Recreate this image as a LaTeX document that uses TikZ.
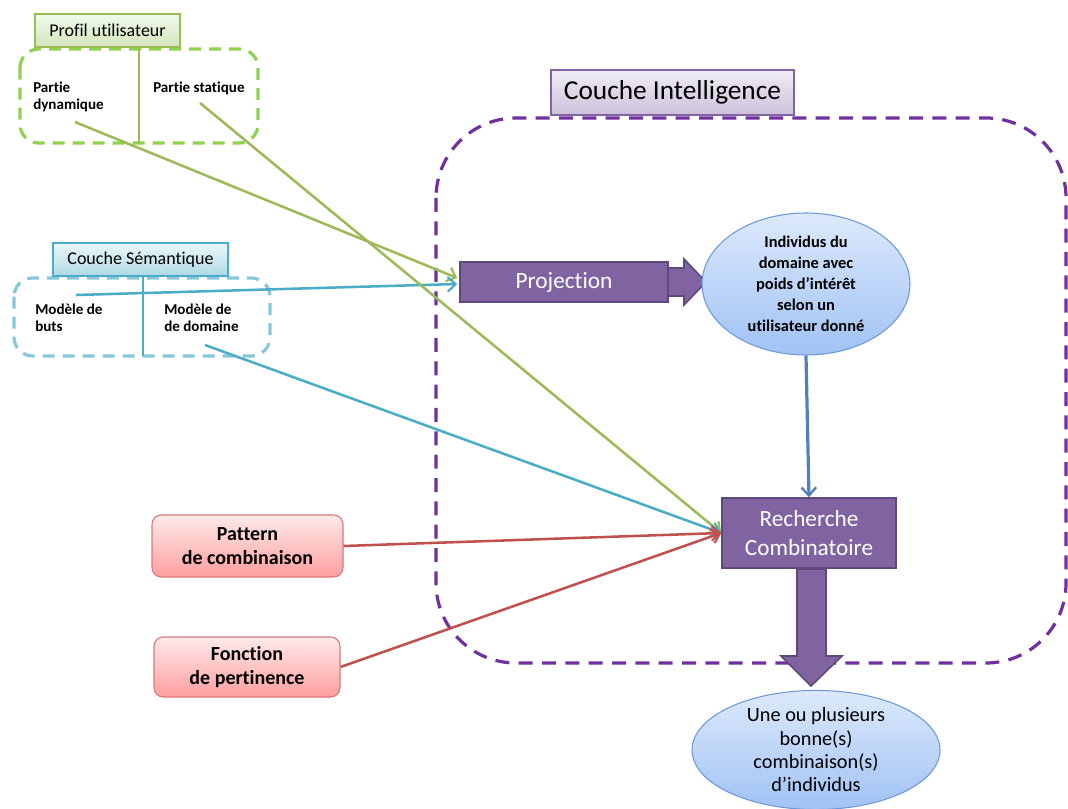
\documentclass[tikz,border=0pt]{standalone}
\usepackage{fontspec}
\setmainfont{Carlito}[Ligatures=NoCommon]
\usetikzlibrary{arrows.meta,shapes.geometric,calc}
\definecolor{gline}{HTML}{9BBB59}
\definecolor{gdash}{HTML}{92D050}
\definecolor{bline}{HTML}{4BACC6}
\definecolor{bdash}{HTML}{86C8DA}
\definecolor{pfill}{HTML}{8064A2}
\definecolor{pborder}{HTML}{5F497A}
\definecolor{pdash}{HTML}{7030A0}
\definecolor{rline}{HTML}{C0504D}
\definecolor{rborder}{HTML}{D9787A}
\definecolor{arrblue}{HTML}{4F81BD}
\definecolor{elltop}{HTML}{DDE9FB}
\definecolor{ellbot}{HTML}{A0C2F5}
\definecolor{ellborder}{HTML}{6D9AD6}
\begin{document}
\begin{tikzpicture}[x=0.75pt,y=-0.75pt,
  title/.style={draw, line width=0.8pt, inner sep=0pt, align=center},
  gtitle/.style={title, draw=gline, top color=green!5!white!95!gline, bottom color=gline!40!white, font=\fontsize{13.5}{16}\selectfont},
  btitle/.style={title, draw=bline, top color=bline!10!white, bottom color=bline!45!white, font=\fontsize{13.5}{16}\selectfont},
  ptitle/.style={title, draw=pfill, top color=pfill!12!white, bottom color=pfill!40!white, font=\fontsize{20.5}{24}\selectfont},
  inlbl/.style={anchor=north west, align=left, inner sep=0pt, font=\bfseries\fontsize{11.3}{12.75}\selectfont},
  pbox/.style={draw=pborder, line width=1.2pt, fill=pfill, text=white, align=center, inner sep=0pt},
  ell/.style={ellipse, draw=ellborder, line width=0.8pt, top color=elltop, bottom color=ellbot, inner sep=0pt, align=center},
  rbox/.style={draw=rborder, line width=0.8pt, rounded corners=7pt, top color=red!8!white, bottom color=red!38!white, align=center, inner sep=0pt, font=\bfseries\fontsize{15}{18}\selectfont},
  conn/.style={line width=1.9pt, -{Straight Barb[length=6pt,width=11pt,line width=1.6pt]}},
]
\useasboundingbox (0,0) rectangle (1068,809);

% Profil utilisateur group
\draw[gdash, line width=2.4pt, dash pattern=on 9pt off 6pt, rounded corners=14pt] (20,49) rectangle (258,143);
\node[gtitle, minimum width=108.75pt, minimum height=24.75pt] (profil) at (107.5,30.5) {Profil utilisateur};
\draw[gline, line width=0.8pt] (profil.south -| 139,0) -- (139,143);
\node[inlbl] (dyn) at (33,82) {Partie\\dynamique};
\node[inlbl] (stat) at (153,82) {Partie statique};
\coordinate (dynE) at (75,122);
\coordinate (statE) at (200,103);

% Couche Sémantique group
\draw[bdash, line width=2.4pt, dash pattern=on 9pt off 6pt, rounded corners=14pt] (14,278) rectangle (270,356);
\node[btitle, minimum width=131.25pt, minimum height=24.75pt] (sem) at (140.5,259.5) {Couche Sémantique};
\draw[bline, line width=0.8pt] (sem.south -| 143,0) -- (143,356);
\node[inlbl] (buts) at (35,304) {Modèle de\\buts};
\node[inlbl] (dom) at (164,304) {Modèle de\\de domaine};
\coordinate (butsE) at (76,295);
\coordinate (domE) at (205,345);

% Couche Intelligence
\draw[pdash, line width=2.4pt, dash pattern=on 10.5pt off 7pt, rounded corners=60pt] (436,118) rectangle (1066,663);
\node[ptitle, minimum width=182.25pt, minimum height=33.75pt] (ci) at (672.5,92.5) {Couche Intelligence};

\node[pbox, minimum width=156pt, minimum height=30pt, font=\fontsize{17.5}{20}\selectfont] (proj) at (564,282) {Projection};
\draw[pborder, line width=1.2pt, fill=pfill] (668,268) -- (684,268) -- (684,259) -- (706,282) -- (684,305) -- (684,296) -- (668,296) -- cycle;

\node[ell, minimum width=156pt, minimum height=106.5pt, font=\bfseries\fontsize{12.3}{15.75}\selectfont] (indiv) at (806,284) {Individus du\\domaine avec\\poids d’intérêt\\selon un\\utilisateur donné};

\node[pbox, minimum width=130.5pt, minimum height=52.5pt, font=\fontsize{17.4}{21.5}\selectfont] (rc) at (809,533) {Recherche\\Combinatoire};

\draw[pborder, line width=1.2pt, fill=pfill] (797,569) -- (826,569) -- (826,656) -- (842,656) -- (811,686) -- (781,656) -- (797,656) -- cycle;

\node[ell, minimum width=186pt, minimum height=88.5pt, font=\fontsize{15.2}{17.5}\selectfont] (res) at (816,750) {Une ou plusieurs\\bonne(s)\\combinaison(s)\\d’individus};

\node[rbox, minimum width=143.25pt, minimum height=46.5pt] (pat) at (247.5,546) {Pattern\\de combinaison};
\node[rbox, minimum width=139.5pt, minimum height=45pt] (fct) at (247,667) {Fonction\\de pertinence};

% connectors
\draw[conn, gline] (dynE) -- ($(proj.west)+(-2,-4)$);
\draw[conn, bline] (butsE) -- ($(proj.west)+(-2,2)$);
\draw[conn, gline] (statE) -- (rc.west);
\draw[conn, bline] (domE) -- (rc.west);
\draw[conn, rline] (pat.east) -- (rc.west);
\draw[conn, rline] (fct.east) -- (rc.west);
\draw[line width=2.4pt, arrblue, -{Straight Barb[length=6pt,width=11pt,line width=1.8pt]}] (indiv.south) -- (rc.north);
\end{tikzpicture}
\end{document}
